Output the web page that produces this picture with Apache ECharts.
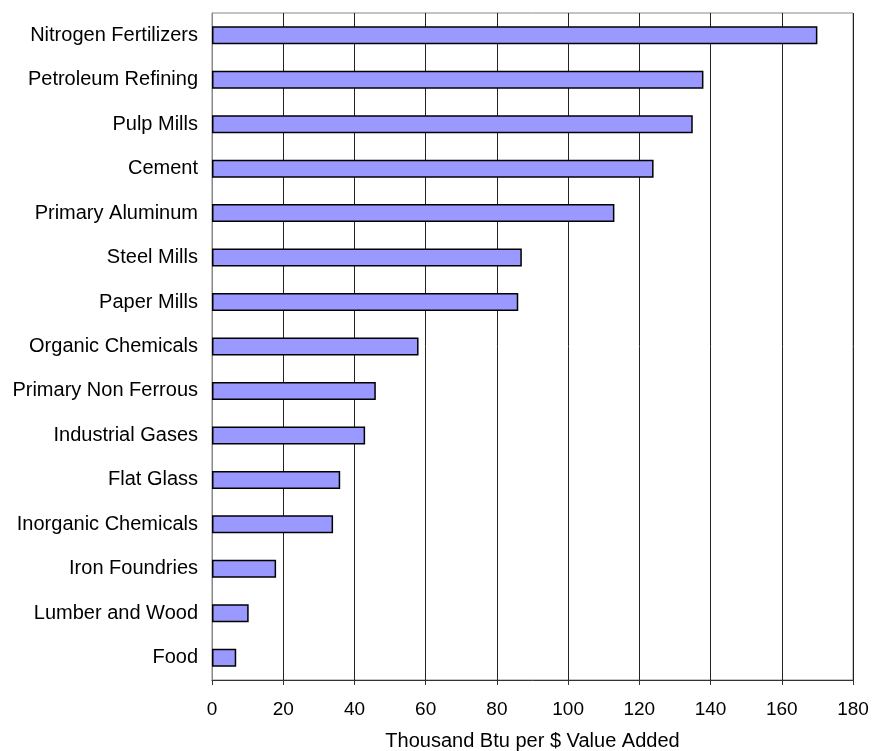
<!DOCTYPE html>
<html>
<head>
<meta charset="utf-8">
<script src="https://cdn.jsdelivr.net/npm/echarts@6/dist/echarts.min.js"></script>
<style>
  html, body { margin: 0; padding: 0; background: #fff; }
  #chart { width: 872px; height: 751px; }
</style>
</head>
<body>
<div id="chart"></div>
<script>
// top to bottom as in the picture
var industries = ['Nitrogen Fertilizers', 'Petroleum Refining', 'Pulp Mills', 'Cement',
  'Primary Aluminum', 'Steel Mills', 'Paper Mills', 'Organic Chemicals',
  'Primary Non Ferrous', 'Industrial Gases', 'Flat Glass', 'Inorganic Chemicals',
  'Iron Foundries', 'Lumber and Wood', 'Food'];
var intensity = [170, 138, 135, 124, 113, 87, 86, 58, 46, 43, 36, 34, 18, 10.3, 6.8];
var axisTitle = 'Thousand Btu per $ Value Added';

var myChart = echarts.init(document.getElementById('chart'));
var font = 'Liberation Sans, Arial, sans-serif';

option = {
  animation: false,
  grid: {
    left: 212, right: 19, top: 13, bottom: 71,
    outerBoundsMode: 'none', containLabel: false,
    show: true, borderColor: '#888', borderWidth: 1
  },
  xAxis: {
    type: 'value',
    min: 0, max: 180, interval: 20,
    name: axisTitle,
    nameLocation: 'middle',
    nameGap: 51,
    nameTextStyle: { color: '#000', fontSize: 20, fontFamily: font },
    axisLine: { show: true, lineStyle: { color: '#333', width: 1 } },
    axisTick: { show: true, length: 5, lineStyle: { color: '#333' } },
    axisLabel: { color: '#000', fontSize: 19, fontFamily: font, margin: 20 },
    splitLine: { show: true, lineStyle: { color: '#222', width: 1 } }
  },
  yAxis: {
    type: 'category',
    data: industries.slice().reverse(),
    axisLine: { show: true, lineStyle: { color: '#888', width: 1 } },
    axisTick: { show: false },
    axisLabel: { color: '#000', fontSize: 20, fontFamily: font, margin: 14 }
  },
  series: [{
    type: 'bar',
    data: intensity.slice().reverse(),
    barWidth: 18,
    itemStyle: { color: '#9999FF', borderColor: '#000', borderWidth: 1.5 }
  }]
};
myChart.setOption(option);
</script>
</body>
</html>
